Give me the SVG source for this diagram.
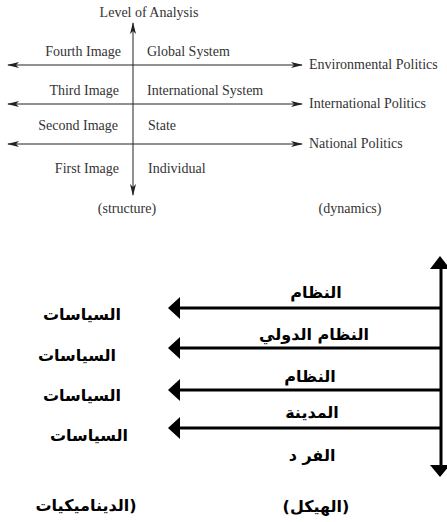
<svg xmlns="http://www.w3.org/2000/svg" width="447" height="522" viewBox="0 0 447 522">
<defs>
<marker id="ah" viewBox="0 0 12 6" refX="11" refY="3" markerWidth="12" markerHeight="6" markerUnits="userSpaceOnUse" orient="auto-start-reverse">
<path d="M0,0 L12,3 L0,6 L3,3 Z" fill="#222"/>
</marker>
</defs>
<style>
.en{font-family:"Liberation Serif","DejaVu Serif","Times New Roman",serif;font-size:14px;fill:#333}
.ar{font-family:"DejaVu Sans",sans-serif;font-size:16px;font-weight:bold;fill:#000}
.ax{stroke:#222;stroke-width:1;fill:none}
.bl{stroke:#000;stroke-width:3;fill:none}
.hd{fill:#000}
</style>
<g id="top-connectors">
<line class="ax" x1="133" y1="23" x2="133" y2="195" marker-start="url(#ah)" marker-end="url(#ah)"/>
<line class="ax" x1="8" y1="65" x2="302" y2="65" marker-start="url(#ah)" marker-end="url(#ah)"/>
<line class="ax" x1="8" y1="104" x2="302" y2="104" marker-start="url(#ah)" marker-end="url(#ah)"/>
<line class="ax" x1="8" y1="144" x2="302" y2="144" marker-start="url(#ah)" marker-end="url(#ah)"/>
</g>
<g id="top-labels">
<text class="en" x="149" y="17" text-anchor="middle">Level of Analysis</text>
<text class="en" x="121" y="56" text-anchor="end">Fourth Image</text>
<text class="en" x="147" y="56">Global System</text>
<text class="en" x="119" y="95" text-anchor="end">Third Image</text>
<text class="en" x="147" y="95">International System</text>
<text class="en" x="118" y="130" text-anchor="end">Second Image</text>
<text class="en" x="148" y="130">State</text>
<text class="en" x="119" y="173" text-anchor="end">First Image</text>
<text class="en" x="148" y="173">Individual</text>
<text class="en" x="127" y="213" text-anchor="middle">(structure)</text>
<text class="en" x="350" y="213" text-anchor="middle">(dynamics)</text>
<text class="en" x="309" y="69">Environmental Politics</text>
<text class="en" x="309" y="108">International Politics</text>
<text class="en" x="309" y="148">National Politics</text>
</g>
<g id="bottom-connectors">
<line class="bl" x1="441" y1="266" x2="441" y2="467"/>
<polygon class="hd" points="440,256 430,269 450,269"/>
<polygon class="hd" points="440,477 430,465 450,465"/>
<line class="bl" x1="178" y1="308" x2="441" y2="308"/>
<polygon class="hd" points="168,308 180,297 180,319"/>
<line class="bl" x1="178" y1="348" x2="441" y2="348"/>
<polygon class="hd" points="168,348 180,337 180,359"/>
<line class="bl" x1="178" y1="390" x2="441" y2="390"/>
<polygon class="hd" points="168,390 180,379 180,401"/>
<line class="bl" x1="178" y1="428" x2="441" y2="428"/>
<polygon class="hd" points="168,428 180,417 180,439"/>
</g>
<g id="node-system"><text class="ar" x="316" y="298" text-anchor="middle" direction="rtl">النظام</text></g>
<g id="node-intl"><text class="ar" x="314" y="340" text-anchor="middle" direction="rtl">النظام الدولي</text></g>
<g id="node-system2"><text class="ar" x="310" y="382" text-anchor="middle" direction="rtl">النظام</text></g>
<g id="node-city"><text class="ar" x="312" y="418" text-anchor="middle" direction="rtl">المدينة</text></g>
<g id="node-individual"><text class="ar" x="312" y="461" text-anchor="middle" direction="rtl">الفر د</text></g>
<g id="node-structure"><text class="ar" x="316" y="512" text-anchor="middle" direction="rtl">(الهيكل)</text></g>
<g id="node-pol1"><text class="ar" x="82" y="320" text-anchor="middle" direction="rtl">السياسات</text></g>
<g id="node-pol2"><text class="ar" x="77" y="361" text-anchor="middle" direction="rtl">السياسات</text></g>
<g id="node-pol3"><text class="ar" x="82" y="401" text-anchor="middle" direction="rtl">السياسات</text></g>
<g id="node-pol4"><text class="ar" x="89" y="441" text-anchor="middle" direction="rtl">السياسات</text></g>
<g id="node-dynamics"><text class="ar" x="86" y="511" text-anchor="middle" direction="ltr">الديناميكيات)</text></g>
</svg>
